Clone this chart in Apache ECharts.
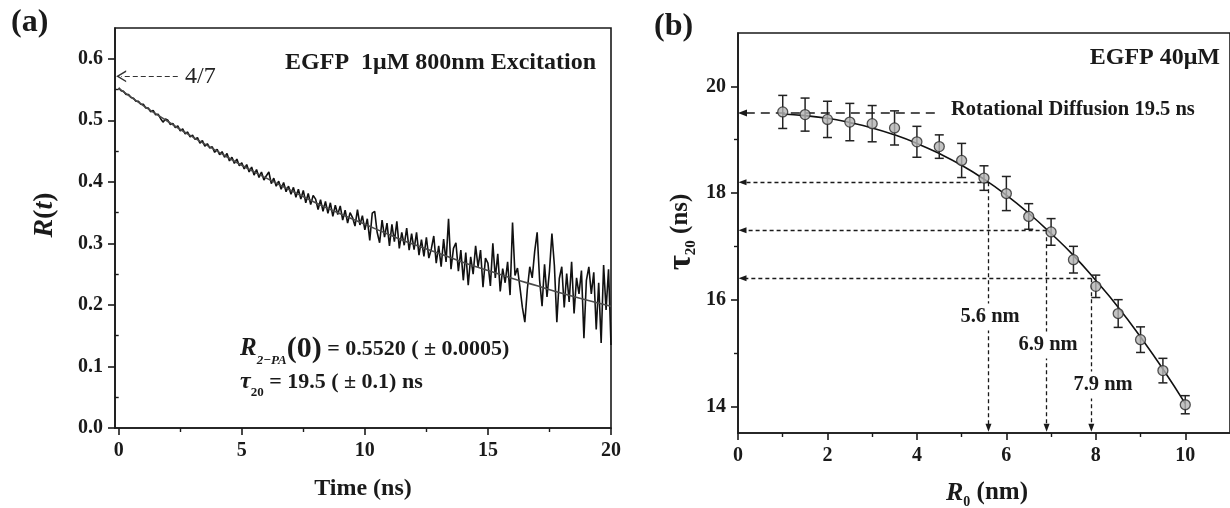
<!DOCTYPE html>
<html><head><meta charset="utf-8">
<script src="https://cdn.jsdelivr.net/npm/echarts@6/dist/echarts.min.js"></script>
<style>html,body{margin:0;padding:0;background:#fff}#c{width:1230px;height:508px}</style>
</head><body><div id="c"></div>
<script>
// ---------- Panel (a): anisotropy decay ----------
const aTimeStep = 0.1; // ns between samples, first sample at t = 0
const aSignal = [
  0.553,0.548,0.547,0.542,0.542,0.537,0.536,0.531,0.531,0.526,
  0.526,0.520,0.520,0.514,0.516,0.509,0.510,0.503,0.497,0.502,
  0.500,0.493,0.495,0.488,0.491,0.483,0.486,0.478,0.481,0.473,
  0.476,0.469,0.472,0.463,0.467,0.458,0.462,0.455,0.457,0.448,
  0.453,0.444,0.449,0.440,0.446,0.434,0.440,0.430,0.437,0.426,
  0.431,0.421,0.428,0.416,0.424,0.411,0.420,0.407,0.416,0.403,
  0.410,0.416,0.397,0.406,0.393,0.401,0.388,0.399,0.384,0.393,
  0.380,0.391,0.375,0.388,0.372,0.386,0.366,0.381,0.363,0.378,
  0.372,0.355,0.371,0.352,0.368,0.349,0.366,0.344,0.362,0.347,
  0.361,0.338,0.354,0.333,0.350,0.342,0.328,0.355,0.330,0.345,
  0.322,0.340,0.305,0.349,0.352,0.318,0.301,0.338,0.310,0.333,
  0.296,0.331,0.303,0.336,0.292,0.318,0.297,0.325,0.289,0.316,
  0.290,0.318,0.281,0.306,0.279,0.310,0.276,0.291,0.312,0.268,
  0.296,0.262,0.307,0.270,0.340,0.258,0.292,0.301,0.255,0.289,
  0.240,0.285,0.232,0.278,0.250,0.296,0.262,0.289,0.229,0.276,
  0.268,0.231,0.300,0.244,0.283,0.222,0.259,0.236,0.270,0.216,
  0.334,0.248,0.260,0.229,0.196,0.172,0.225,0.262,0.244,0.287,
  0.318,0.240,0.198,0.266,0.213,0.255,0.316,0.264,0.172,0.243,
  0.262,0.196,0.251,0.205,0.270,0.186,0.244,0.218,0.256,0.146,
  0.240,0.262,0.218,0.253,0.160,0.236,0.138,0.265,0.192,0.258,
  0.135
];
const aFitTime  = [0,1,2,3,4,5,6,7,8,9,10,11,12,13,14,15,16,17,18,19,20];
const aFitValue = [0.552,0.524,0.498,0.473,0.450,0.427,0.406,0.386,0.366,0.348,0.331,0.314,0.298,0.284,0.269,0.256,0.243,0.231,0.219,0.208,0.198];
const aLimit = 4/7;
const aXTicks = [0,5,10,15,20];
const aXMinor = [2.5,7.5,12.5,17.5];
const aYTicks = [0,0.1,0.2,0.3,0.4,0.5,0.6];
const aYMinor = [0.05,0.15,0.25,0.35,0.45,0.55];

// ---------- Panel (b): tau20 vs R0 ----------
const bR0     = [1,1.5,2,2.5,3,3.5,4,4.5,5,5.5,6,6.5,7,7.5,8,8.5,9,9.5,10];
const bTau    = [19.52,19.47,19.38,19.33,19.30,19.22,18.96,18.87,18.61,18.28,17.99,17.56,17.27,16.75,16.25,15.74,15.25,14.67,14.03];
const bTauErr = [0.31,0.31,0.34,0.35,0.34,0.32,0.29,0.22,0.32,0.23,0.32,0.24,0.25,0.25,0.21,0.26,0.24,0.23,0.17];
const bFitR0  = [1,1.5,2,2.5,3,3.5,4,4.5,5,5.5,6,6.5,7,7.5,8,8.5,9,9.5,10];
const bFitTau = [19.48,19.45,19.40,19.32,19.22,19.09,18.93,18.74,18.52,18.26,17.96,17.62,17.24,16.83,16.36,15.86,15.30,14.70,14.05];
const bRotational = 19.5;
const bRotEnd = 4.4;
const bMarkR0  = [5.6,6.9,7.9];
const bMarkTau = [18.2,17.3,16.4];
const bMarkLabels = ['5.6 nm','6.9 nm','7.9 nm'];
const bXTicks = [0,2,4,6,8,10];
const bXMinor = [1,3,5,7,9];
const bYTicks = [14,16,18,20];
const bYMinor = [15,17,19];

// ---------- styling helpers ----------
const FF = "'Liberation Serif','Times New Roman',serif";
const INK = '#1a1a1a';
function mainAxis(grid, pos, min, max, ticks, fmt, margin) {
  return {
    type:'value', gridIndex:grid, position:pos, min:min, max:max,
    axisLine:{show:true, onZero:false, lineStyle:{color:INK, width:1.6}},
    axisTick:{show:true, inside:false, length:7, customValues:ticks, lineStyle:{color:INK, width:1.6}},
    axisLabel:{show:true, customValues:ticks, margin:margin, color:INK, fontFamily:FF, fontWeight:'bold', fontSize:20, formatter:fmt},
    splitLine:{show:false}, minorTick:{show:false}
  };
}
function minorAxis(grid, pos, min, max, ticks) {
  return {
    type:'value', gridIndex:grid, position:pos, min:min, max:max,
    axisLine:{show:false},
    axisTick:{show:true, inside:false, length:4, customValues:ticks, lineStyle:{color:INK, width:1.4}},
    axisLabel:{show:false}, splitLine:{show:false}
  };
}

const signalData = aSignal.map((v,i)=>[+(i*aTimeStep).toFixed(2), v]);
const aFitData = aFitTime.map((t,i)=>[t, aFitValue[i]]);
const bPts = bR0.map((r,i)=>[r, bTau[i], bTauErr[i]]);
const bFit = bFitR0.map((r,i)=>[r, bFitTau[i]]);

const dotted = {type:[4,3], width:1.3, color:INK};
const bMarkLines = [
  [{coord:[bRotEnd,bRotational], symbol:'none', lineStyle:{type:[9,6], width:1.6, color:INK}},
   {coord:[0.1,bRotational], symbol:'triangle', symbolSize:[7,9]}]
];
bMarkR0.forEach((r,i)=>{
  bMarkLines.push([{coord:[r,bMarkTau[i]], symbol:'none', lineStyle:dotted},{coord:[0.1,bMarkTau[i]], symbol:'triangle', symbolSize:[6,8]}]);
  bMarkLines.push([{coord:[r,bMarkTau[i]], symbol:'none', lineStyle:dotted},{coord:[r,13.6], symbol:'triangle', symbolSize:[6,8]}]);
});

const chart = echarts.init(document.getElementById('c'), null, {renderer:'canvas'});
const option = {
  animation:false,
  backgroundColor:'#fff',
  grid:[
    {left:115, top:28, width:496, height:400, show:true, borderColor:INK, borderWidth:1.6, backgroundColor:'transparent'},
    {left:738, top:33, width:498, height:400, show:true, borderColor:INK, borderWidth:1.6, backgroundColor:'transparent'}
  ],
  xAxis:[
    mainAxis(0,'bottom',-0.15,20,aXTicks,v=>String(v),13),
    minorAxis(0,'bottom',-0.15,20,aXMinor),
    mainAxis(1,'bottom',0,11,bXTicks,v=>String(v),13),
    minorAxis(1,'bottom',0,11,bXMinor)
  ],
  yAxis:[
    mainAxis(0,'left',0,0.65,aYTicks,v=>v.toFixed(1),12),
    minorAxis(0,'left',0,0.65,aYMinor),
    mainAxis(1,'left',13.5,21,bYTicks,v=>String(v),12),
    minorAxis(1,'left',13.5,21,bYMinor)
  ],
  series:[
    {type:'line', xAxisIndex:0, yAxisIndex:0, data:signalData, showSymbol:false, symbol:'none',
     lineStyle:{color:'#111', width:1.6}, z:2},
    {type:'line', xAxisIndex:0, yAxisIndex:0, data:aFitData, smooth:true, showSymbol:false, symbol:'none',
     lineStyle:{color:'#4a4a4a', width:1.6}, z:3,
     markLine:{silent:true, animation:false, label:{show:false},
       data:[[{coord:[2.4,aLimit], symbol:'none', lineStyle:{type:[5,3], width:1.1, color:'#333'}},
              {coord:[0.1,aLimit], symbol:'path://M5,0 L10,10 L8.6,10 L5,2.8 L1.4,10 L0,10 Z', symbolSize:[12,10]}]]}},
    {type:'line', xAxisIndex:2, yAxisIndex:2, data:bFit, smooth:true, showSymbol:false, symbol:'none',
     lineStyle:{color:'#111', width:1.6}, z:3,
     markLine:{silent:true, animation:false, label:{show:false}, data:bMarkLines}},
    {type:'custom', xAxisIndex:2, yAxisIndex:2, data:bPts, z:4,
     renderItem:function(params, api){
       const x = api.value(0), y = api.value(1), e = api.value(2);
       const top = api.coord([x, y+e]), bot = api.coord([x, y-e]);
       const w = 4.5, st = {stroke:'#222', lineWidth:1.5};
       return {type:'group', children:[
         {type:'line', shape:{x1:top[0], y1:top[1], x2:bot[0], y2:bot[1]}, style:st},
         {type:'line', shape:{x1:top[0]-w, y1:top[1], x2:top[0]+w, y2:top[1]}, style:st},
         {type:'line', shape:{x1:bot[0]-w, y1:bot[1], x2:bot[0]+w, y2:bot[1]}, style:st}
       ]};
     }},
    {type:'scatter', xAxisIndex:2, yAxisIndex:2, data:bPts.map(p=>[p[0],p[1]]), symbol:'circle', symbolSize:10,
     itemStyle:{color:'#b4b4b4', borderColor:'#2a2a2a', borderWidth:1.3}, z:5}
  ],
  graphic:[
    {type:'text', x:11, y:23, z:100, style:{text:'(a)', font:'bold 32px '+FF, fill:INK, verticalAlign:'middle', align:'left'}},
    {type:'text', x:654, y:27, z:100, style:{text:'(b)', font:'bold 32px '+FF, fill:INK, verticalAlign:'middle', align:'left'}},
    {type:'text', x:45, y:215, rotation:Math.PI/2, z:100, style:{text:'{i|R}{n|(}{i|t}{n|)}', align:'center', verticalAlign:'middle',
      rich:{i:{font:'italic bold 28px '+FF, fill:INK}, n:{font:'bold 28px '+FF, fill:INK}}}},
    {type:'text', x:363, y:489, z:100, style:{text:'Time (ns)', font:'bold 24px '+FF, fill:INK, align:'center', verticalAlign:'middle'}},
    {type:'text', x:596, y:63, z:100, style:{text:'EGFP  1\u03bcM 800nm Excitation', font:'bold 24px '+FF, fill:INK, align:'right', verticalAlign:'middle'}},
    {type:'text', x:185, y:77, z:100, style:{text:'4/7', font:'24px '+FF, fill:'#222', align:'left', verticalAlign:'middle'}},
    {type:'text', x:240, y:349, z:100, style:{text:'{i|R}{s|2\u2212PA}{p|(0)}{n| = 0.5520 ( \u00b1 0.0005)}', align:'left', verticalAlign:'middle',
      rich:{i:{font:'italic bold 25px '+FF, fill:INK, lineHeight:36}, s:{font:'italic bold 13px '+FF, fill:INK, lineHeight:11, verticalAlign:'bottom'},
            p:{font:'bold 30px '+FF, fill:INK, lineHeight:36}, n:{font:'bold 22px '+FF, fill:INK, lineHeight:36}}}},
    {type:'text', x:240, y:382, z:100, style:{text:'{i|\u03c4}{s|20}{n| = 19.5 ( \u00b1 0.1) ns}', align:'left', verticalAlign:'middle',
      rich:{i:{font:'italic bold 24px '+FF, fill:INK, lineHeight:34}, s:{font:'bold 13px '+FF, fill:INK, lineHeight:11, verticalAlign:'bottom'},
            n:{font:'bold 22px '+FF, fill:INK, lineHeight:34}}}},
    {type:'text', x:1220, y:58, z:100, style:{text:'EGFP 40\u03bcM', font:'bold 24px '+FF, fill:INK, align:'right', verticalAlign:'middle'}},
    {type:'text', x:951, y:110, z:100, style:{text:'Rotational Diffusion 19.5 ns', font:'bold 20.5px '+FF, fill:INK, align:'left', verticalAlign:'middle'}},
    {type:'text', x:990, y:317, z:100, style:{text:bMarkLabels[0], font:'bold 20.5px '+FF, fill:INK, align:'center', verticalAlign:'middle', backgroundColor:'#fff', padding:[3,2]}},
    {type:'text', x:1048, y:345, z:100, style:{text:bMarkLabels[1], font:'bold 20.5px '+FF, fill:INK, align:'center', verticalAlign:'middle', backgroundColor:'#fff', padding:[3,2]}},
    {type:'text', x:1103, y:385, z:100, style:{text:bMarkLabels[2], font:'bold 20.5px '+FF, fill:INK, align:'center', verticalAlign:'middle', backgroundColor:'#fff', padding:[3,2]}},
    {type:'text', x:681, y:232, rotation:Math.PI/2, z:100, style:{text:'{t|\u03c4}{s|20}{n| (ns)}', align:'center', verticalAlign:'middle',
      rich:{t:{font:'bold 33px '+FF, fill:INK, lineHeight:36}, s:{font:'bold 15px '+FF, fill:INK, lineHeight:13, verticalAlign:'bottom'},
            n:{font:'bold 25px '+FF, fill:INK, lineHeight:36}}}},
    {type:'text', x:987, y:493, z:100, style:{text:'{i|R}{s|0}{n| (nm)}', align:'center', verticalAlign:'middle',
      rich:{i:{font:'italic bold 26px '+FF, fill:INK, lineHeight:32}, s:{font:'bold 14px '+FF, fill:INK, lineHeight:11, verticalAlign:'bottom'},
            n:{font:'bold 25px '+FF, fill:INK, lineHeight:32}}}}
  ]
};
chart.setOption(option);
</script>
</body></html>
